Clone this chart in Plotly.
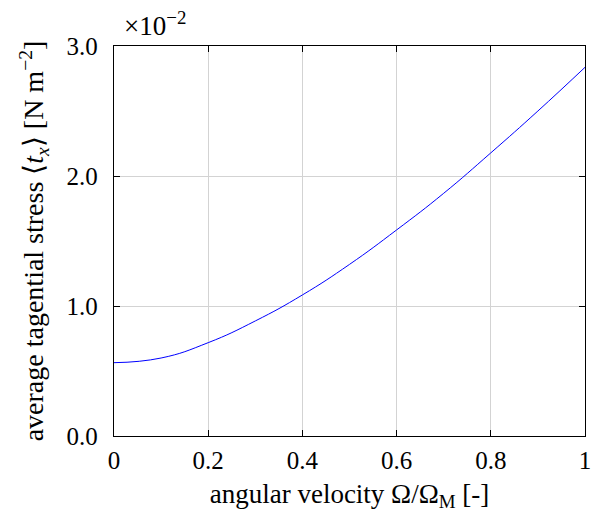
import plotly.graph_objects as go

# angular velocity (normalised) and average tangential stress (x 1e-2 N m^-2)
omega = [0.0, 0.1, 0.2, 0.3, 0.4, 0.5, 0.6, 0.7, 0.8, 0.9, 1.0]
stress = [0.564, 0.600, 0.718, 0.885, 1.085, 1.32, 1.585, 1.867, 2.178, 2.50, 2.836]

x_ticks = [0, 0.2, 0.4, 0.6, 0.8, 1.0]
x_tick_labels = ["0", "0.2", "0.4", "0.6", "0.8", "1"]
y_ticks = [0.0, 1.0, 2.0, 3.0]
y_tick_labels = ["0.0", "1.0", "2.0", "3.0"]

FONT = "Liberation Serif, Times New Roman, serif"

fig = go.Figure()
fig.add_trace(go.Scatter(
    x=omega, y=stress, mode="lines",
    line=dict(color="#0000ff", width=1, shape="spline", smoothing=1.3),
    showlegend=False, hoverinfo="skip",
))

axis_common = dict(
    showline=True, linecolor="black", linewidth=1.3, mirror="ticks",
    ticks="inside", ticklen=6, tickcolor="black", tickwidth=1,
    showgrid=True, gridcolor="#d3d3d3", gridwidth=1,
    zeroline=False,
    tickfont=dict(family=FONT, size=25, color="black"),
)

fig.update_xaxes(
    range=[0, 1], tickvals=x_ticks, ticktext=x_tick_labels,
    title=dict(text="angular velocity Ω/Ω<sub>M</sub> [-]",
               font=dict(family=FONT, size=27, color="black"), standoff=10),
    ticklabelstandoff=2,
    **axis_common,
)
fig.update_yaxes(
    range=[0, 3.0], tickvals=y_ticks, ticktext=y_tick_labels,
    title=dict(text="average tagential stress ⟨<i>t<sub>x</sub></i>⟩ [N m<sup>−2</sup>]",
               font=dict(family=FONT, size=28, color="black"), standoff=14),
    ticklabelstandoff=10,
    **axis_common,
)

fig.add_annotation(
    text="×10<sup>−2</sup>", xref="paper", yref="paper", x=0, y=1,
    xanchor="left", yanchor="bottom", xshift=8, yshift=3, showarrow=False,
    font=dict(family=FONT, size=27, color="black"),
)

fig.update_layout(
    width=611, height=522,
    margin=dict(l=114, r=26, t=46, b=86),
    paper_bgcolor="white", plot_bgcolor="white",
)

fig.write_html("out.html")
